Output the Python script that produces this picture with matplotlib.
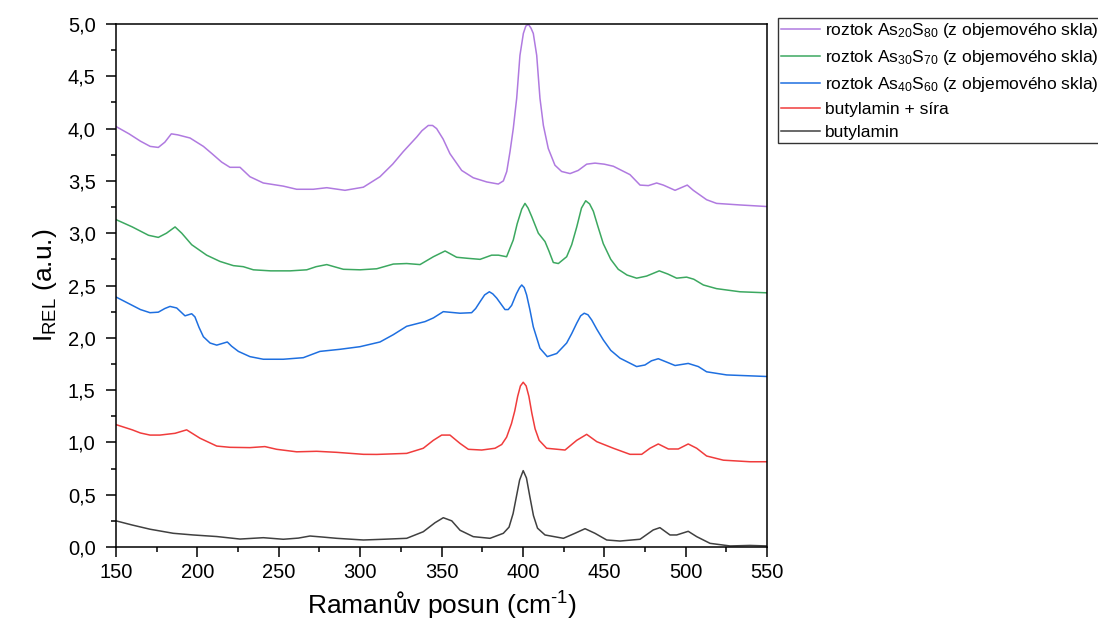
import matplotlib
matplotlib.use("Agg")
import matplotlib.pyplot as plt
from matplotlib.ticker import MultipleLocator, FuncFormatter

plt.rcParams['font.family'] = ['Liberation Sans', 'DejaVu Sans']
plt.rcParams['mathtext.fontset'] = 'custom'
plt.rcParams['mathtext.rm'] = 'Liberation Sans'
plt.rcParams['mathtext.it'] = 'Liberation Sans:italic'
plt.rcParams['mathtext.bf'] = 'Liberation Sans:bold'

# ---- data ----
purple_x = [150, 158, 165, 171, 176, 180, 184, 188, 195.5, 203.7, 209, 214.9, 220, 226.2, 232.3, 240.5, 252.8,
            261, 271.2, 279.5, 290.7, 302, 312.2, 320, 326.5, 334.8, 338, 341.9, 344.5, 347, 351, 355.2, 362.4,
            369.5, 377.8, 384.9, 388, 390.1, 392.1, 394.1, 396.2, 398.2, 400.3, 401.8, 403.4, 405, 406.4,
            408.5, 410.5, 412.6, 415.6, 419.7, 423.8, 429, 434, 439.2, 444.3, 450, 455.6, 465.8, 472, 477.1,
            482.2, 486.3, 493.5, 501, 504.7, 512.9, 519, 533.4, 550]
purple_y = [4.02, 3.95, 3.88, 3.83, 3.82, 3.87, 3.95, 3.94, 3.91, 3.83, 3.76, 3.68, 3.63, 3.63, 3.54, 3.48, 3.45,
            3.42, 3.42, 3.435, 3.41, 3.44, 3.54, 3.66, 3.78, 3.92, 3.98, 4.03, 4.03, 4.00, 3.90, 3.76, 3.60,
            3.53, 3.49, 3.47, 3.50, 3.59, 3.78, 4.00, 4.29, 4.70, 4.91, 4.98, 4.997, 4.96, 4.91,
            4.70, 4.29, 4.03, 3.81, 3.65, 3.59, 3.57, 3.60, 3.66, 3.67, 3.66, 3.64, 3.56, 3.46, 3.455,
            3.48, 3.46, 3.41, 3.46, 3.41, 3.32, 3.285, 3.27, 3.255]

green_x = [150, 160, 170, 176, 181, 186.3, 190.4, 196.5, 205.7, 213.9, 222.1, 228.2, 234.4, 245, 257, 267.2,
           273, 279.5, 284, 289.7, 300, 310.2, 320.4, 328.6, 336.8, 345, 352.2, 359.3, 366, 373.7, 380.8,
           385, 390, 394.1, 396.5, 399.3, 401.3, 403.2, 405.4, 409.5, 413.6, 416, 418.7, 421.8, 426.9, 430,
           433.1, 436, 438.6, 441, 443.3, 446, 449.4, 454, 458.6, 464, 469.9, 476, 483.8, 489, 494.5, 500.6,
           505, 510.9, 519, 533.4, 550]
green_y = [3.13, 3.06, 2.98, 2.96, 3.00, 3.06, 3.00, 2.89, 2.79, 2.73, 2.69, 2.68, 2.65, 2.64, 2.64, 2.65,
           2.68, 2.70, 2.68, 2.655, 2.65, 2.66, 2.705, 2.71, 2.70, 2.775, 2.83, 2.77, 2.76, 2.75, 2.79,
           2.79, 2.775, 2.935, 3.09, 3.23, 3.285, 3.24, 3.16, 3.00, 2.92, 2.83, 2.72, 2.71, 2.775, 2.89,
           3.06, 3.24, 3.31, 3.28, 3.21, 3.07, 2.90, 2.75, 2.655, 2.60, 2.57, 2.59, 2.64, 2.61, 2.57, 2.58,
           2.56, 2.505, 2.47, 2.44, 2.43]

blue_x = [150, 155, 160, 165, 170.9, 176, 180, 183.2, 187.3, 192.4, 196.5, 198.5, 201, 203.7, 207.8, 211.9,
          218.4, 221, 225.2, 232.3, 240.5, 252.8, 265.1, 275.3, 287.6, 299.9, 312.2, 320.4, 328.6, 339.9,
          345, 351.1, 361.4, 368.5, 371, 373.7, 376.5, 379.4, 381.5, 383.9, 389, 391, 393.1, 396, 398,
          399.3, 400.8, 402.3, 404.3, 406.4, 410.5, 415, 420.8, 426.9, 430, 433.1, 435.5, 437.7, 440,
          442.3, 445.5, 449.4, 454, 459.7, 469.9, 475, 479, 483.2, 488, 493.5, 501.6, 507.8,
          512.9, 525.2, 550]
blue_y = [2.39, 2.35, 2.31, 2.27, 2.24, 2.245, 2.28, 2.30, 2.285, 2.21, 2.23, 2.20, 2.10, 2.01, 1.95, 1.93,
          1.96, 1.92, 1.87, 1.82, 1.795, 1.795, 1.81, 1.87, 1.89, 1.915, 1.96, 2.03, 2.11, 2.155,
          2.19, 2.25, 2.235, 2.24, 2.28, 2.345, 2.41, 2.44, 2.42, 2.38, 2.27, 2.27, 2.31, 2.42, 2.48,
          2.505, 2.48, 2.41, 2.27, 2.105, 1.90, 1.82, 1.85, 1.95, 2.04, 2.14, 2.21, 2.235, 2.22,
          2.17, 2.08, 1.98, 1.88, 1.805, 1.725, 1.74, 1.78, 1.80, 1.77, 1.735, 1.755, 1.725,
          1.675, 1.645, 1.63]

red_x = [150, 160, 165, 170.9, 177, 186.3, 193.4, 201.6, 211.9, 220, 232.3, 241.5, 248.7, 261, 273.3, 285.6,
         302, 310.2, 328.6, 338.8, 345, 350.1, 355.2, 361.4, 366.5, 374.7, 382.9, 387, 390, 393, 395,
         396.8, 398.5, 400.2, 402, 403.7, 405.5, 407.5, 410, 414.6, 425.9, 433.1, 439.2, 445.4, 455.6,
         465.8, 473, 478.1, 483.2, 489.4, 495.5, 501.6, 506.8, 512.9, 523.2, 539.6, 550]
red_y = [1.17, 1.12, 1.09, 1.07, 1.07, 1.087, 1.12, 1.04, 0.965, 0.953, 0.95, 0.96, 0.934, 0.91, 0.915, 0.905,
         0.886, 0.885, 0.895, 0.944, 1.02, 1.07, 1.07, 0.99, 0.934, 0.927, 0.944, 0.98, 1.05, 1.18, 1.30,
         1.44, 1.54, 1.575, 1.54, 1.44, 1.28, 1.13, 1.02, 0.944, 0.927, 1.02, 1.077, 1.007, 0.944,
         0.886, 0.886, 0.944, 0.985, 0.937, 0.937, 0.985, 0.944, 0.87, 0.83, 0.815, 0.815]

black_x = [150, 160, 170.9, 185.2, 197.5, 211.9, 226.2, 240.5, 252.8, 262, 269.2, 277, 285.6, 302, 314.3,
           328.6, 338.8, 346, 351.1, 356.3, 361.4, 369.5, 379.8, 388, 391.5, 394, 396, 398, 400.2, 402.2,
           404.3, 406.5, 409, 413.6, 424.9, 432, 438.2, 444.3, 451.5, 459.7, 472, 480.1, 484.2, 490.4,
           494.5, 501.6, 506.8, 515, 527.3, 539.6, 550]
black_y = [0.25, 0.21, 0.17, 0.131, 0.115, 0.10, 0.076, 0.089, 0.074, 0.085, 0.105, 0.095, 0.083, 0.067, 0.074,
           0.083, 0.146, 0.232, 0.28, 0.25, 0.16, 0.099, 0.083, 0.131, 0.19, 0.32, 0.48, 0.64, 0.73, 0.66,
           0.48, 0.30, 0.18, 0.115, 0.083, 0.131, 0.175, 0.131, 0.067, 0.057, 0.074, 0.163, 0.185, 0.115,
           0.115, 0.15, 0.099, 0.035, 0.01, 0.015, 0.01]

labels = [r'roztok As$_{20}$S$_{80}$ (z objemového skla)',
          r'roztok As$_{30}$S$_{70}$ (z objemového skla)',
          r'roztok As$_{40}$S$_{60}$ (z objemového skla)',
          'butylamin + síra',
          'butylamin']

# ---- figure ----
fig = plt.figure(figsize=(10.98, 6.34), dpi=100)
ax = fig.add_axes([116 / 1098, 1 - 547 / 634, (767 - 116) / 1098, (547 - 24) / 634])

lw = 1.1
hb, = ax.plot(black_x, black_y, color='#404040', lw=lw)
hr, = ax.plot(red_x, red_y, color='#F03C3C', lw=lw)
hbl, = ax.plot(blue_x, blue_y, color='#1E6FE0', lw=lw)
hg, = ax.plot(green_x, green_y, color='#3CA860', lw=lw)
hp, = ax.plot(purple_x, purple_y, color='#B07AE0', lw=lw)

ax.set_xlim(150, 550)
ax.set_ylim(0, 5)
ax.xaxis.set_major_locator(MultipleLocator(50))
ax.xaxis.set_minor_locator(MultipleLocator(25))
ax.yaxis.set_major_locator(MultipleLocator(0.5))
ax.yaxis.set_minor_locator(MultipleLocator(0.25))
ax.yaxis.set_major_formatter(FuncFormatter(lambda v, p: f'{v:.1f}'.replace('.', ',')))

ax.tick_params(which='both', direction='out', top=False, right=False, width=1.1, labelsize=14.5)
ax.tick_params(which='major', length=7.2)
ax.tick_params(which='minor', length=3.6)
ax.tick_params(axis='x', which='major', pad=4)
ax.tick_params(axis='y', which='major', pad=7.5)
for s in ax.spines.values():
    s.set_linewidth(1.1)

ax.set_xlabel(r'Ramanův posun (cm$^{\text{-1}}$)', fontsize=19, labelpad=6)
ax.set_ylabel(r'I$_{\mathrm{REL}}$ (a.u.)', fontsize=19, labelpad=6)

leg = fig.legend([hp, hg, hbl, hr, hb], labels, loc='upper left',
                 bbox_to_anchor=(778 / 1098, 1 - 18 / 634), bbox_transform=fig.transFigure,
                 fontsize=12.5, frameon=True, fancybox=False, edgecolor='black',
                 handlelength=2.2, handletextpad=0.3, borderpad=0.2, labelspacing=0.45,
                 borderaxespad=0)
leg.get_frame().set_linewidth(1.0)

fig.savefig('out.png', dpi=100)
